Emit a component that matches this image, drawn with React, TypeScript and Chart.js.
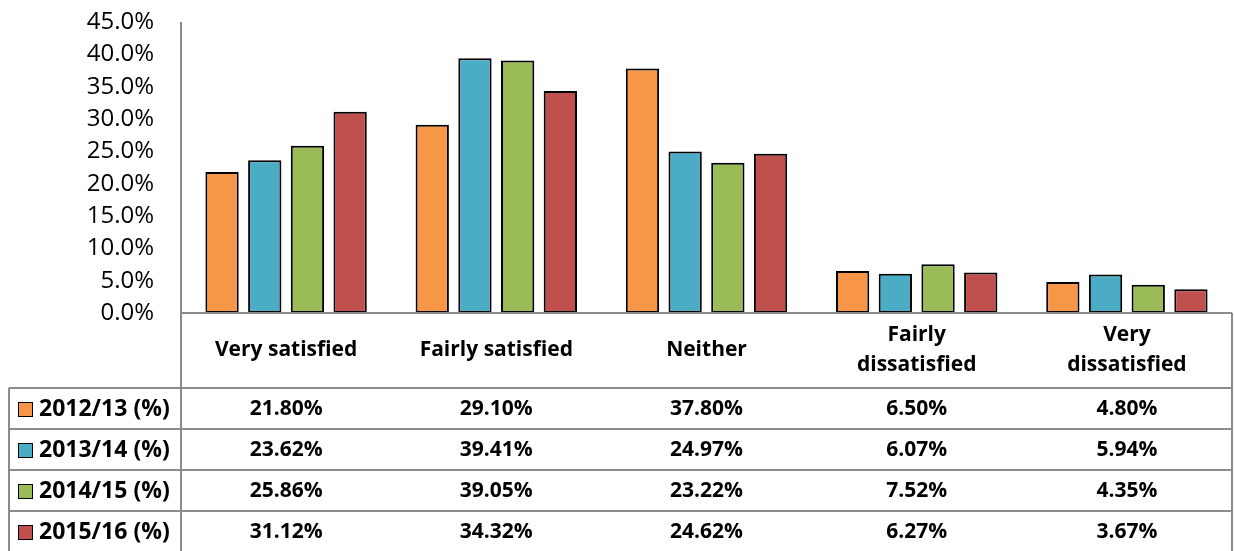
import React, { useEffect, useRef } from "react";
import { Chart, registerables } from "chart.js";

Chart.register(...registerables);

const categories: string[][] = [
  ["Very satisfied"],
  ["Fairly satisfied"],
  ["Neither"],
  ["Fairly", "dissatisfied"],
  ["Very", "dissatisfied"],
];
const seriesNames = ["2012/13 (%)", "2013/14 (%)", "2014/15 (%)", "2015/16 (%)"];
const s2012 = [21.8, 29.1, 37.8, 6.5, 4.8];
const s2013 = [23.62, 39.41, 24.97, 6.07, 5.94];
const s2014 = [25.86, 39.05, 23.22, 7.52, 4.35];
const s2015 = [31.12, 34.32, 24.62, 6.27, 3.67];
const colors = ["#F79646", "#4BACC6", "#9BBB59", "#C0504D"];

const FONT = "'Open Sans', sans-serif";

export default function App() {
  const ref = useRef<HTMLCanvasElement | null>(null);
  useEffect(() => {
    if (!ref.current) return;
    const series = [s2012, s2013, s2014, s2015];
    const tablePlugin = {
      id: "dataTable",
      afterDraw(chart: any) {
        const ctx = chart.ctx as CanvasRenderingContext2D;
        const area = chart.chartArea;
        const xs = chart.scales.x;
        const W = 1232;
        const legendLeft = 9;
        const headerBottom = 388;
        const rowH = 41;
        ctx.save();
        ctx.strokeStyle = "#8C8C8C";
        ctx.lineWidth = 2;
        const line = (x1: number, y1: number, x2: number, y2: number) => {
          ctx.beginPath();
          ctx.moveTo(x1, y1);
          ctx.lineTo(x2, y2);
          ctx.stroke();
        };
        line(area.left, area.top, area.left, 551);
        line(area.left, area.bottom, W, area.bottom);
        line(W, area.bottom, W, 551);
        for (let r = 0; r <= 4; r++) {
          const y = headerBottom + r * rowH;
          line(legendLeft, y, W, y);
        }
        line(legendLeft, headerBottom, legendLeft, 551);
        ctx.fillStyle = "#000";
        ctx.font = `bold 21px ${FONT}`;
        ctx.textAlign = "center";
        ctx.textBaseline = "middle";
        categories.forEach((lines, i) => {
          const cx = xs.getPixelForValue(i);
          if (lines.length === 1) {
            ctx.fillText(lines[0], cx, 350);
          } else {
            ctx.fillText(lines[0], cx, 335);
            ctx.fillText(lines[1], cx, 365);
          }
        });
        series.forEach((vals, r) => {
          const cy = headerBottom + r * rowH + rowH / 2 + 1;
          ctx.font = `bold 21px ${FONT}`;
          vals.forEach((v, i) => {
            ctx.textAlign = "center";
            ctx.fillText(v.toFixed(2) + "%", xs.getPixelForValue(i), cy);
          });
          ctx.fillStyle = colors[r];
          ctx.fillRect(18, cy - 7.5, 15, 15);
          ctx.strokeStyle = "#000";
          ctx.lineWidth = 1;
          ctx.strokeRect(18.5, cy - 7, 14, 14);
          ctx.fillStyle = "#000";
          ctx.textAlign = "left";
          ctx.font = `bold 23px ${FONT}`;
          ctx.fillText(seriesNames[r], 39, cy);
        });
        ctx.restore();
      },
    };
    const chart = new Chart(ref.current, {
      type: "bar",
      data: {
        labels: categories.map((c) => c.join(" ")),
        datasets: series.map((vals, i) => ({
          label: seriesNames[i],
          data: vals,
          backgroundColor: colors[i],
          borderColor: "#000",
          borderWidth: 2,
          borderSkipped: false,
          categoryPercentage: 0.8125,
          barPercentage: 0.78,
        })),
      },
      options: {
        responsive: false,
        animation: false,
        layout: { padding: { left: 0, right: 2, top: 22, bottom: 238 } },
        plugins: { legend: { display: false }, tooltip: { enabled: false } },
        scales: {
          x: { display: false },
          y: {
            min: 0,
            max: 45,
            afterFit(scale: any) {
              scale.width = 181;
              scale.paddingTop = 0;
              scale.paddingBottom = 0;
            },
            grid: { display: false, drawTicks: false },
            border: { display: false },
            ticks: {
              stepSize: 5,
              padding: 27,
              color: "#000",
              font: { family: FONT, size: 24 },
              callback: (v: any) => Number(v).toFixed(1) + "%",
            },
          },
        },
      },
      plugins: [tablePlugin],
    });
    return () => chart.destroy();
  }, []);
  return (
    <div style={{ position: "fixed", left: 0, top: 0, width: 1234, height: 551, background: "#fff" }}>
      <canvas ref={ref} width={1234} height={551} />
    </div>
  );
}
